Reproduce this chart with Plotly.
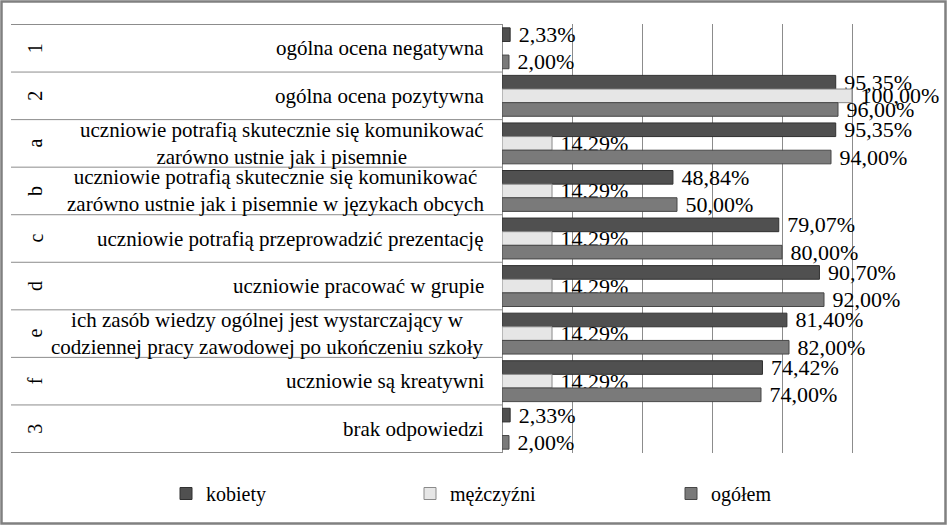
import plotly.graph_objects as go

codes = ["1", "2", "a", "b", "c", "d", "e", "f", "3"]
labels = [
    "ogólna ocena negatywna",
    "ogólna ocena pozytywna",
    "uczniowie potrafią skutecznie się komunikować<br>zarówno ustnie jak i pisemnie",
    "uczniowie potrafią skutecznie się komunikować<br>zarówno ustnie jak i pisemnie w językach obcych",
    "uczniowie potrafią przeprowadzić prezentację",
    "uczniowie pracować w grupie",
    "ich zasób wiedzy ogólnej jest wystarczający w<br>codziennej pracy zawodowej po ukończeniu szkoły",
    "uczniowie są kreatywni",
    "brak odpowiedzi",
]
kobiety = [2.33, 95.35, 95.35, 48.84, 79.07, 90.70, 81.40, 74.42, 2.33]
mezczyzni = [None, 100.00, 14.29, 14.29, 14.29, 14.29, 14.29, 14.29, None]
ogolem = [2.00, 96.00, 94.00, 50.00, 80.00, 92.00, 82.00, 74.00, 2.00]
series_names = ["kobiety", "mężczyźni", "ogółem"]

W, H = 947, 525
ml, mr, mt, mb = 10, 25, 24, 72
pw, ph = W - ml - mr, H - mt - mb
FONT = "Liberation Serif"


def px_x(p):
    return (p - ml) / pw


def px_y(p):
    return 1 - (p - mt) / ph


fig = go.Figure()
colors = ["#505050", "#e6e6e6", "#7a7a7a"]
edges = ["#303030", "#8a8a8a", "#474747"]
legend_ids = ["legend", "legend2", "legend3"]
for name, vals, c, e, lg in zip(series_names, [kobiety, mezczyzni, ogolem], colors, edges, legend_ids):
    fig.add_trace(go.Bar(
        y=codes, x=vals, name=name, orientation="h",
        marker=dict(color=c, line=dict(color=e, width=1)),
        texttemplate="\u00a0%{x:.2f}%", textposition="outside",
        textfont=dict(family=FONT, size=22, color="black"),
        constraintext="none", cliponaxis=False, legend=lg,
    ))

annotations = []
shapes = []
for i, (code, lab) in enumerate(zip(codes, labels)):
    annotations.append(dict(
        x=px_x(486), xref="paper", y=i, yref="y", text=lab,
        xanchor="right", align="center", showarrow=False,
        font=dict(family=FONT, size=21, color="black"),
    ))
    annotations.append(dict(
        x=px_x(22), xref="paper", y=i, yref="y", text=code,
        textangle=-90, showarrow=False,
        font=dict(family=FONT, size=20, color="black"),
    ))
for i in range(len(codes) + 1):
    shapes.append(dict(
        type="line", xref="paper", yref="y",
        x0=px_x(11), x1=px_x(502), y0=i - 0.5, y1=i - 0.5,
        line=dict(color="#8c8c8c", width=1),
    ))
# outer frame
shapes.append(dict(
    type="rect", xref="paper", yref="paper",
    x0=px_x(1.5), x1=px_x(945.5), y0=px_y(523.5), y1=px_y(1.5),
    line=dict(color="#808080", width=2.5),
))

legend_pos = [166, 410, 671]
legends = {}
for lg, xp in zip(legend_ids, legend_pos):
    legends[lg] = dict(
        x=px_x(xp), xref="paper", y=px_y(474), yref="paper",
        xanchor="left", yanchor="top", orientation="h",
        font=dict(family=FONT, size=20, color="black"),
        bgcolor="rgba(0,0,0,0)", itemwidth=30,
    )

fig.update_layout(
    width=W, height=H,
    margin=dict(l=ml, r=mr, t=mt, b=mb),
    paper_bgcolor="white", plot_bgcolor="white",
    barmode="group", bargap=0.14, bargroupgap=0,
    separators=",.",
    font=dict(family=FONT, size=20, color="black"),
    xaxis=dict(
        domain=[px_x(502), 1], range=[0, 120], dtick=20,
        showgrid=True, gridcolor="#8c8c8c", gridwidth=1,
        zeroline=True, zerolinecolor="#8c8c8c", zerolinewidth=1,
        showticklabels=False, ticks="", fixedrange=True,
    ),
    yaxis=dict(
        type="category", autorange="reversed",
        showticklabels=False, showgrid=False, zeroline=False,
        ticks="", showline=False, fixedrange=True,
    ),
    annotations=annotations,
    shapes=shapes,
    showlegend=True,
    **legends,
)

fig.write_html(
    "out.html",
    config={"displayModeBar": False},
    post_script="document.body.style.margin='0';",
)
